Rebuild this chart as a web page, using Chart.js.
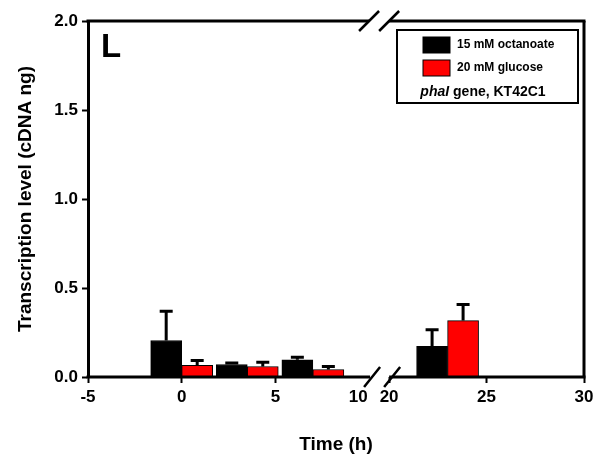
<!DOCTYPE html>
<html><head><meta charset="utf-8">
<script src="https://cdn.jsdelivr.net/npm/chart.js@4"></script>
<style>html,body{margin:0;padding:0;background:#fff;} canvas{display:block;}</style>
</head><body>
<canvas id="c" width="594" height="460"></canvas>
<script>
// ---- data ----
const times = [0, 3.5, 7, 23];
const octanoate = [0.205, 0.070, 0.097, 0.173];
const octanoateErr = [0.165, 0.008, 0.014, 0.092];
const glucose = [0.065, 0.059, 0.042, 0.317];
const glucoseErr = [0.028, 0.024, 0.017, 0.090];
const seriesLabels = ['15 mM octanoate', '20 mM glucose'];
const xTickLabels = [-5, 0, 5, 10, 20, 25, 30];
const yTickLabels = [0, 0.5, 1.0, 1.5, 2.0];
const panelLetter = 'L';
const noteItalic = 'phaI';
const noteRest = ' gene, KT42C1';
const xTitle = 'Time (h)';
const yTitle = 'Transcription level (cDNA ng)';

// ---- broken x axis: 10..20 collapsed ----
const BREAK_LO = 10, BREAK_HI = 20, GAP = 1.07, RIGHT_K = 1.04;
function disp(t){ return t <= BREAK_LO ? t : BREAK_LO + GAP + (t - BREAK_HI) * RIGHT_K; }
function real(d){ return d <= BREAK_LO + 1e-6 ? d : BREAK_HI + (d - BREAK_LO - GAP) / RIGHT_K; }

const FONT = "'Liberation Sans', Arial, Helvetica, sans-serif";
const errs = [octanoateErr, glucoseErr];

const extras = {
  id: 'extras',
  afterDatasetsDraw(chart) {
    const ctx = chart.ctx, ys = chart.scales.y;
    ctx.save();
    ctx.strokeStyle = '#000';
    ctx.lineWidth = 3;
    chart.data.datasets.forEach((ds, i) => {
      const meta = chart.getDatasetMeta(i);
      meta.data.forEach((el, j) => {
        const v = ds.data[j].y, e = errs[i][j];
        const yt = ys.getPixelForValue(v + e);
        ctx.beginPath();
        ctx.moveTo(el.x, el.y);
        ctx.lineTo(el.x, yt);
        ctx.moveTo(el.x - 6.5, yt);
        ctx.lineTo(el.x + 6.5, yt);
        ctx.stroke();
      });
    });
    ctx.restore();
  },
  afterDraw(chart) {
    const ctx = chart.ctx, a = chart.chartArea, xs = chart.scales.x;
    const xl = xs.getPixelForValue(disp(BREAK_LO));
    const xr = xs.getPixelForValue(disp(BREAK_HI));
    ctx.save();
    ctx.strokeStyle = '#000';
    ctx.lineCap = 'butt';
    ctx.lineWidth = 3;
    // bottom axis (broken)
    ctx.beginPath();
    ctx.moveTo(a.left - 1.5, a.bottom); ctx.lineTo(xl + 1, a.bottom);
    ctx.moveTo(xr, a.bottom); ctx.lineTo(a.right + 1.5, a.bottom);
    ctx.stroke();
    // top line (broken)
    ctx.beginPath();
    ctx.moveTo(a.left - 1.5, a.top); ctx.lineTo(xl, a.top);
    ctx.moveTo(xr, a.top); ctx.lineTo(a.right + 1.5, a.top);
    ctx.stroke();
    // right line
    ctx.beginPath();
    ctx.moveTo(a.right, a.top); ctx.lineTo(a.right, a.bottom);
    ctx.stroke();
    // break slashes
    ctx.lineWidth = 2.5;
    ctx.beginPath();
    [xl + 3, xr + 3].forEach(cx => { ctx.moveTo(cx - 8, a.bottom + 10); ctx.lineTo(cx + 8, a.bottom - 10); });
    [xl, xr].forEach(cx => { ctx.moveTo(cx - 10, a.top + 10); ctx.lineTo(cx + 10, a.top - 10); });
    ctx.stroke();

    // panel letter
    ctx.fillStyle = '#000';
    ctx.font = 'bold 33px ' + FONT;
    ctx.textAlign = 'left'; ctx.textBaseline = 'alphabetic';
    ctx.fillText(panelLetter, a.left + 13, a.top + 36);

    // legend
    const bx = a.right - 187, by = a.top + 9, bw = 181, bh = 73;
    ctx.lineWidth = 2;
    ctx.strokeRect(bx, by, bw, bh);
    chart.data.datasets.forEach((ds, i) => {
      const sy = by + 7 + i * 23;
      ctx.fillStyle = ds.backgroundColor;
      ctx.fillRect(bx + 26, sy, 27, 16);
      ctx.lineWidth = 1;
      ctx.strokeRect(bx + 26, sy, 27, 16);
      ctx.fillStyle = '#000';
      ctx.font = 'bold 12px ' + FONT;
      ctx.textBaseline = 'middle';
      ctx.fillText(ds.label, bx + 60, sy + 8);
    });
    ctx.font = 'italic bold 14px ' + FONT;
    const w1 = ctx.measureText(noteItalic).width;
    ctx.font = 'bold 14px ' + FONT;
    const w2 = ctx.measureText(noteRest).width;
    const nx = bx + 86 - (w1 + w2) / 2, ny = by + 62;
    ctx.font = 'italic bold 14px ' + FONT;
    ctx.fillText(noteItalic, nx, ny);
    ctx.font = 'bold 14px ' + FONT;
    ctx.fillText(noteRest, nx + w1, ny);
    ctx.restore();
  }
};

new Chart(document.getElementById('c'), {
  type: 'bar',
  data: {
    datasets: [
      { label: seriesLabels[0], data: times.map((t, i) => ({x: disp(t), y: octanoate[i]})),
        backgroundColor: '#000000', borderColor: '#000000', borderWidth: 1 },
      { label: seriesLabels[1], data: times.map((t, i) => ({x: disp(t), y: glucose[i]})),
        backgroundColor: '#ff0000', borderColor: '#000000', borderWidth: 1 }
    ]
  },
  options: {
    responsive: false,
    animation: false,
    barThickness: 31,
    layout: { padding: { top: 21, right: 10, left: 0, bottom: 0 } },
    plugins: { legend: { display: false }, tooltip: { enabled: false } },
    scales: {
      x: {
        type: 'linear',
        offset: false,
        min: disp(-5), max: disp(30),
        afterBuildTicks(scale) { scale.ticks = xTickLabels.map(t => ({ value: disp(t) })); },
        afterFit(scale) { scale.height = 83; scale.paddingLeft = 0; scale.paddingRight = 0; },
        ticks: {
          autoSkip: false, maxRotation: 0, padding: 4, color: '#000',
          font: { family: FONT, size: 17, weight: 'bold' },
          callback: (v) => {
            const t = Math.round(real(v));
            return t === BREAK_LO ? String(t) + '\u2002\u2002 ' : String(t);
          }
        },
        grid: {
          display: true, drawOnChartArea: false, drawTicks: true, tickLength: 6, offset: false,
          tickWidth: 2,
          tickColor: (c) => (c.tick && Math.abs(real(c.tick.value) - BREAK_LO) < 1e-6) ? 'rgba(0,0,0,0)' : '#000'
        },
        border: { display: false },
        title: { display: true, text: xTitle, color: '#000', padding: { top: 0, bottom: 4 },
          font: { family: FONT, size: 19, weight: 'bold' } }
      },
      y: {
        min: 0, max: 2.0,
        afterBuildTicks(scale) { scale.ticks = yTickLabels.map(v => ({ value: v })); },
        afterFit(scale) { scale.width = 88; scale.paddingTop = 0; scale.paddingBottom = 0; },
        ticks: {
          padding: 4, color: '#000',
          font: { family: FONT, size: 17, weight: 'bold' },
          callback: (v) => Number(v).toFixed(1)
        },
        grid: { display: true, drawOnChartArea: false, drawTicks: true, tickLength: 6, tickWidth: 2, tickColor: '#000' },
        border: { display: true, color: '#000', width: 3 },
        title: { display: true, text: yTitle, color: '#000', padding: { top: 14, bottom: 0 },
          font: { family: FONT, size: 19, weight: 'bold' } }
      }
    }
  },
  plugins: [extras]
});
</script>
</body></html>
